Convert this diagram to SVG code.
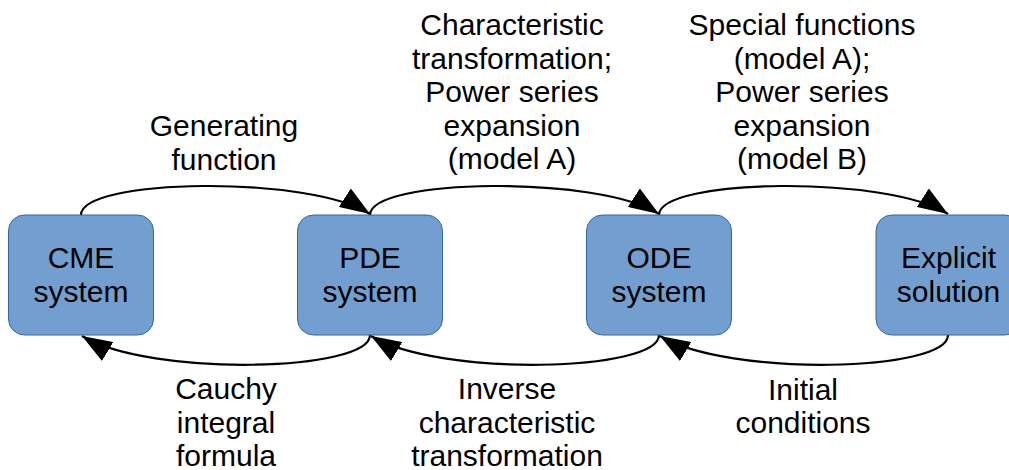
<svg xmlns="http://www.w3.org/2000/svg" width="1009" height="470" viewBox="0 0 1009 470">
<style>
.box{fill:#729fcf;stroke:#3465a4;stroke-width:1}
text{font-family:"Liberation Sans",Arial,sans-serif;font-size:30px;fill:#000;text-anchor:middle}
.conn{fill:none;stroke:#000;stroke-width:2.2}
</style>
<defs>
<marker id="ah" markerUnits="userSpaceOnUse" markerWidth="30" markerHeight="22" refX="30" refY="11" orient="auto">
<path d="M0,0 L30,11 L0,22 z" fill="#000"/>
</marker>
</defs>
<rect width="1009" height="470" fill="#fff"/>
<g id="connectors">
<path class="conn" d="M81,215 C81,178 310,175 370,214" marker-end="url(#ah)"/>
<path class="conn" d="M370,215 C370,178 599,175 659,214" marker-end="url(#ah)"/>
<path class="conn" d="M659,215 C659,178 888,175 948,214" marker-end="url(#ah)"/>
<path class="conn" d="M370,335 C370,372 150,377 82,336" marker-end="url(#ah)"/>
<path class="conn" d="M659,335 C659,372 439,377 371,336" marker-end="url(#ah)"/>
<path class="conn" d="M948,335 C948,372 728,377 660,336" marker-end="url(#ah)"/>
</g>
<g id="node-cme">
<rect class="box" x="8.5" y="215" width="145" height="120" rx="16"/>
<text x="81" y="268">CME</text>
<text x="81" y="301.5">system</text>
</g>
<g id="node-pde">
<rect class="box" x="297.5" y="215" width="145" height="120" rx="16"/>
<text x="370" y="268">PDE</text>
<text x="370" y="301.5">system</text>
</g>
<g id="node-ode">
<rect class="box" x="586.5" y="215" width="145" height="120" rx="16"/>
<text x="659" y="268">ODE</text>
<text x="659" y="301.5">system</text>
</g>
<g id="node-explicit">
<rect class="box" x="876" y="215" width="145" height="120" rx="16"/>
<text x="948.5" y="268">Explicit</text>
<text x="948.5" y="301.5">solution</text>
</g>
<g id="labels">
<text x="224" y="136">Generating</text>
<text x="224" y="169.5">function</text>
<text x="512" y="35">Characteristic</text>
<text x="512" y="68.5">transformation;</text>
<text x="512" y="102">Power series</text>
<text x="512" y="135.5">expansion</text>
<text x="512" y="169">(model A)</text>
<text x="802" y="35">Special functions</text>
<text x="802" y="68.5">(model A);</text>
<text x="802" y="102">Power series</text>
<text x="802" y="135.5">expansion</text>
<text x="802" y="169">(model B)</text>
<text x="226" y="399">Cauchy</text>
<text x="226" y="432.5">integral</text>
<text x="226" y="465.5">formula</text>
<text x="507" y="399">Inverse</text>
<text x="507" y="432.5">characteristic</text>
<text x="507" y="465.5">transformation</text>
<text x="803" y="399.5">Initial</text>
<text x="803" y="433">conditions</text>
</g>
</svg>
